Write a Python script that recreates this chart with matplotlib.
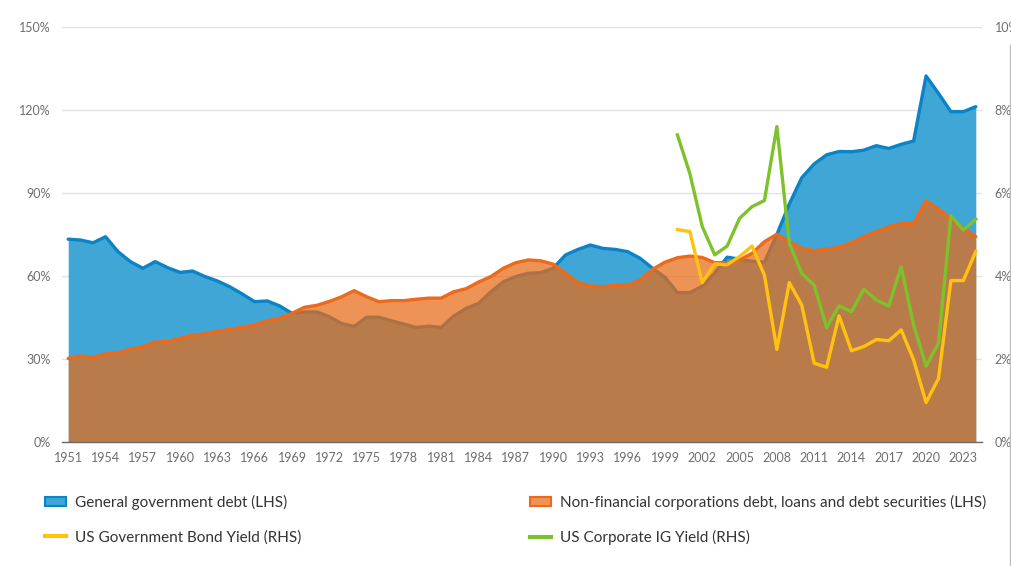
import matplotlib
matplotlib.use("Agg")
import matplotlib.pyplot as plt
from matplotlib.patches import Patch
from matplotlib.lines import Line2D
import numpy as np

years = list(range(1951, 2025))
gov_debt = [73.3, 73.0, 72.0, 74.2, 68.8, 65.2, 62.8, 65.2, 63.0, 61.3,
            61.8, 59.8, 58.2, 56.1, 53.5, 50.7, 51.0, 49.2, 46.5, 47.0,
            47.0, 45.3, 42.8, 41.8, 45.1, 45.1, 43.8, 42.6, 41.4, 41.9,
            41.4, 45.5, 48.3, 50.1, 54.3, 57.9, 59.8, 61.0, 61.2, 62.8,
            67.6, 69.6, 71.2, 70.0, 69.6, 68.8, 66.4, 62.8, 59.5, 54.0,
            54.0, 56.3, 61.0, 66.8, 66.1, 65.3, 65.0, 75.0, 86.0, 95.5,
            100.5, 103.8, 105.0, 104.9, 105.5, 107.1, 106.1, 107.6, 108.8, 132.3,
            126.0, 119.4, 119.4, 121.2]
nfc_debt = [30.2, 31.1, 30.6, 31.8, 32.3, 33.5, 34.4, 36.1, 36.3, 37.5,
            38.7, 39.0, 40.0, 40.7, 41.5, 42.3, 43.8, 44.7, 46.5, 48.7,
            49.4, 50.8, 52.5, 54.7, 52.5, 50.7, 51.1, 51.1, 51.6, 52.0,
            52.0, 54.3, 55.4, 57.8, 59.8, 62.8, 64.8, 65.8, 65.5, 64.3,
            61.0, 57.6, 56.4, 56.1, 56.7, 56.7, 58.5, 62.4, 65.0, 66.6,
            67.2, 66.7, 64.8, 64.8, 65.8, 68.2, 72.4, 75.1, 72.4, 70.0,
            69.1, 69.7, 70.4, 72.0, 74.2, 76.0, 77.8, 79.0, 79.0, 87.2,
            84.1, 80.8, 77.2, 74.2]
yield_years = list(range(2000, 2025))
us_gov_yield = [5.12, 5.07, 3.84, 4.29, 4.27, 4.47, 4.72, 4.02, 2.23, 3.84,
                3.30, 1.90, 1.80, 3.04, 2.20, 2.30, 2.47, 2.44, 2.70, 1.98,
                0.95, 1.53, 3.89, 3.89, 4.59]
us_ig_yield = [7.40, 6.47, 5.19, 4.51, 4.72, 5.39, 5.67, 5.82, 7.60, 4.79,
               4.06, 3.78, 2.76, 3.28, 3.14, 3.68, 3.42, 3.28, 4.22, 2.82,
               1.83, 2.38, 5.45, 5.11, 5.37]
xtick_years = list(range(1951, 2024, 3))
left_ticks = [0, 30, 60, 90, 120, 150]
right_ticks = [0, 2, 4, 6, 8, 10]
labels = ["General government debt (LHS)",
          "Non-financial corporations debt, loans and debt securities (LHS)",
          "US Government Bond Yield (RHS)",
          "US Corporate IG Yield (RHS)"]

BLUE_FILL = "#3FA6D6"
BLUE_LINE = "#0A84C6"
ORANGE_FILL = "#E96B17"
ORANGE_LINE = "#EC6A1A"
YELLOW = "#FFC20E"
GREEN = "#7DC22A"
TICK_COLOR = "#6e6e6e"

plt.rcParams['font.family'] = ['Lato', 'DejaVu Sans']

fig = plt.figure(figsize=(10.12, 5.66), dpi=100)
W, H = 1012, 566
ax = fig.add_axes([62 / W, (H - 442) / H, 920 / W, 415 / H])

ax.fill_between(years, 0, gov_debt, color=BLUE_FILL, lw=0, zorder=2)
ax.plot(years, gov_debt, color=BLUE_LINE, lw=2.4, solid_joinstyle='round',
        solid_capstyle='round', zorder=3)
ax.fill_between(years, 0, nfc_debt, color=ORANGE_FILL, alpha=0.73, lw=0, zorder=4)
ax.plot(years, nfc_debt, color=ORANGE_LINE, lw=2.4, solid_joinstyle='round',
        solid_capstyle='round', zorder=5)

ax.set_xlim(1950.5, 2024.5)
ax.set_ylim(0, 150)
ax.set_yticks(left_ticks)
ax.set_yticklabels([f"{t}%" for t in left_ticks])
ax.set_xticks(xtick_years)
ax.set_xticklabels([str(y) for y in xtick_years])
ax.grid(axis='y', color='#e2e2e2', lw=1.0, zorder=0)
ax.set_axisbelow(True)
for s in ['top', 'right', 'left']:
    ax.spines[s].set_visible(False)
ax.spines['bottom'].set_color('#6a6a6a')
ax.spines['bottom'].set_linewidth(1.0)
ax.spines['bottom'].set_zorder(6)
ax.tick_params(axis='both', length=0, colors=TICK_COLOR, labelsize=9)
ax.tick_params(axis='y', pad=8)
ax.tick_params(axis='x', pad=7)

ax2 = ax.twinx()
ax2.plot(yield_years, us_gov_yield, color=YELLOW, lw=2.4, solid_joinstyle='round')
ax2.plot(yield_years, us_ig_yield, color=GREEN, lw=2.4, solid_joinstyle='round')
ax2.set_ylim(0, 10)
ax2.set_yticks(right_ticks)
ax2.set_yticklabels([f"{t}%" for t in right_ticks])
for s in ['top', 'right', 'left', 'bottom']:
    ax2.spines[s].set_visible(False)
ax2.tick_params(axis='y', length=0, colors=TICK_COLOR, labelsize=9, pad=9)

# legend
h_gov = Patch(facecolor=BLUE_FILL, edgecolor=BLUE_LINE, lw=1.5)
h_nfc = Patch(facecolor="#EF9356", edgecolor=ORANGE_LINE, lw=1.5)
h_yld = Line2D([], [], color=YELLOW, lw=3)
h_ig = Line2D([], [], color=GREEN, lw=3)
common = dict(frameon=False, fontsize=11, handlelength=1.4, handleheight=0.5,
              handletextpad=0.55, labelspacing=1.3, borderpad=0,
              borderaxespad=0, loc='upper left', labelcolor='#333333')
leg1 = fig.legend([h_gov, h_yld], [labels[0], labels[2]],
                  bbox_to_anchor=(45 / W, (H - 495) / H), **common)
leg2 = fig.legend([h_nfc, h_ig], [labels[1], labels[3]],
                  bbox_to_anchor=(530 / W, (H - 495) / H), **common)

fig.add_artist(Line2D([1010 / W, 1010 / W], [0, (H - 45) / H],
                      transform=fig.transFigure, color='#bdbdbd', lw=1))

fig.savefig("out.png", dpi=100)
